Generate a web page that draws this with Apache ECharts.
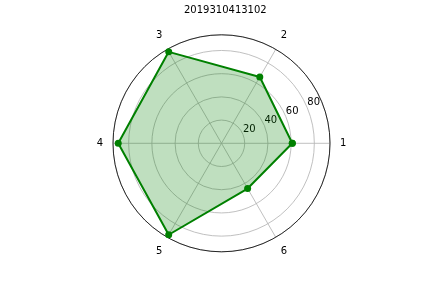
<!DOCTYPE html>
<html>
<head>
<meta charset="utf-8">
<script src="https://cdn.jsdelivr.net/npm/echarts@6/dist/echarts.min.js"></script>
<style>html,body{margin:0;padding:0;background:#fff}#c{width:432px;height:288px}</style>
</head>
<body>
<div id="c"></div>
<script>
var titleText = '2019310413102';
var categories = ['1', '2', '3', '4', '5', '6'];
var values = [61, 66, 91, 89, 91, 45];
var radialTicks = [20, 40, 60, 80];
var rMax = 93.5;

var step = 360 / categories.length;
var lineData = values.map(function (v, i) { return [v, i * step]; });
lineData.push([values[0], 360]);

var font = 'DejaVu Sans';
var center = [221.5, 143.3];
var chart = echarts.init(document.getElementById('c'), null, {renderer: 'canvas'});
chart.setOption({
  animation: false,
  backgroundColor: '#fff',
  title: {
    text: titleText, left: 184, top: 5, padding: 0,
    textStyle: {fontSize: 10, fontWeight: 'normal', color: '#000', fontFamily: font}
  },
  polar: [
    {center: center, radius: 108.5},
    {center: center, radius: 108.5}
  ],
  angleAxis: [
    {
      polarIndex: 0, type: 'value', min: 0, max: 360, interval: step,
      startAngle: 0, clockwise: false,
      axisLine: {show: true, lineStyle: {color: '#000', width: 0.8}},
      axisTick: {show: false},
      axisLabel: {
        show: true, margin: 10, fontSize: 10, color: '#000', fontFamily: font,
        showMaxLabel: false,
        formatter: function (v) { var i = Math.round(v / step); return categories[i] || ''; }
      },
      splitLine: {show: true, lineStyle: {color: '#b0b0b0', width: 0.8}}
    },
    {
      polarIndex: 1, type: 'value', min: 0, max: 360,
      startAngle: 22.5, clockwise: false,
      axisLine: {show: false}, axisTick: {show: false}, axisLabel: {show: false}, splitLine: {show: false}
    }
  ],
  radiusAxis: [
    {
      polarIndex: 0, type: 'value', min: 0, max: rMax, interval: 20,
      axisLine: {show: false}, axisTick: {show: false}, axisLabel: {show: false},
      splitLine: {show: true, lineStyle: {color: '#b0b0b0', width: 0.8}}
    },
    {
      polarIndex: 1, type: 'value', min: 0, max: rMax, interval: 20,
      axisLine: {show: false}, axisTick: {show: false},
      axisLabel: {
        show: true, fontSize: 10, color: '#000', fontFamily: font, margin: 0,
        align: 'left', verticalAlign: 'bottom',
        formatter: function (v) { return radialTicks.indexOf(v) >= 0 ? String(v) : ''; }
      },
      splitLine: {show: false}
    }
  ],
  series: [{
    type: 'line', coordinateSystem: 'polar', polarIndex: 0,
    data: lineData,
    symbol: 'circle', symbolSize: 7,
    lineStyle: {color: '#008000', width: 2},
    itemStyle: {color: '#008000'},
    areaStyle: {color: 'rgba(0,128,0,0.25)', opacity: 1},
    z: 5
  }]
});
</script>
</body>
</html>
